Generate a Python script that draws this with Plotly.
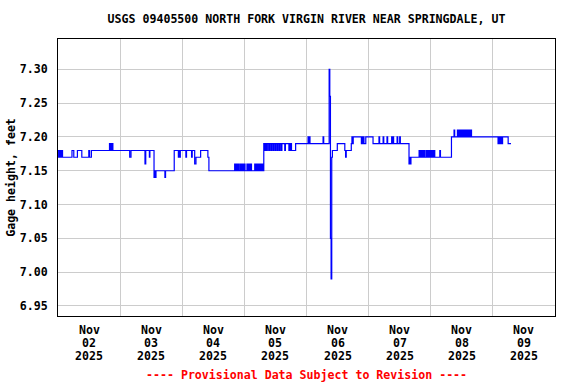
import pandas as pd
import plotly.graph_objects as go

# ---- data: step change points (hours after 2025-11-02 00:00, gage height ft) ----
hours = [
    0.0, 0.25, 0.5, 0.75, 1.0, 1.25, 1.5, 1.75,
    5.4, 6.1, 7.5, 9.2, 11.9, 12.2, 12.9,
    19.9, 20.2, 20.4, 20.7, 20.9, 21.2,
    27.7, 28.2, 33.6, 33.9, 35.3, 35.5,
    37.1, 37.35, 37.6, 37.85, 41.3, 41.55,
    44.9, 46.5, 46.75, 47.0, 47.25, 49.4, 49.65, 51.6, 51.85,
    52.8, 53.3, 55.1, 57.9, 58.3,
    68.25, 68.5, 68.75, 69.0, 69.25, 69.5, 69.75, 70.0, 70.5, 70.75,
    71.0, 71.25, 71.5, 71.75, 72.0, 72.25,
    73.0, 73.25, 73.5, 73.75, 74.0, 74.25, 74.5, 74.75,
    76.0, 76.25, 76.5, 76.75, 77.0, 77.25, 77.5, 77.75,
    78.0, 78.25, 78.5, 78.75, 79.0, 79.25,
    79.5, 79.75, 80.0, 80.25, 80.5, 81.0, 81.25, 81.75, 82.0, 82.5,
    82.75, 83.25, 83.5, 84.0, 84.25, 84.75, 85.0, 85.5, 85.75, 86.25, 86.5,
    87.6, 87.85, 89.2, 89.45, 89.7, 89.95, 90.2, 91.8,
    96.6, 96.85, 97.1, 97.35, 102.4, 102.65,
    104.75, 105.0, 105.25, 105.5, 105.75,
    106.0, 107.9, 110.8, 111.1, 111.35,
    113.3, 113.55, 113.8, 114.05,
    117.2, 117.45, 117.7, 117.95, 118.2, 118.9,
    121.7, 124.0, 124.25, 125.6, 125.85, 127.1, 127.35,
    128.9, 129.15, 129.4, 129.65, 131.0, 131.25, 132.0, 132.25,
    135.6, 135.85, 136.1, 136.35,
    139.5, 139.75, 140.0, 140.25, 140.5, 140.75, 141.0, 141.25, 141.5, 141.75,
    142.3, 142.55, 142.8, 143.05, 143.3, 143.55, 143.8, 144.05, 144.3, 144.55,
    144.8, 145.05, 145.3, 145.55,
    147.5, 147.75,
    152.0, 153.0, 153.25,
    154.3, 154.55, 154.8, 155.05, 155.3, 155.55, 155.8, 156.05, 156.3, 156.55,
    156.8, 157.05, 157.3, 157.55,
    158.0, 158.25, 158.5, 158.75, 159.0, 159.25, 159.5, 159.75,
    170.0, 170.25, 170.5, 170.75, 171.0, 171.25, 171.5, 171.75,
    173.9, 175.0,
]
gage_ft = [
    7.18, 7.17, 7.18, 7.17, 7.18, 7.17, 7.18, 7.17,
    7.18, 7.17, 7.18, 7.17, 7.18, 7.17, 7.18,
    7.19, 7.18, 7.19, 7.18, 7.19, 7.18,
    7.17, 7.18, 7.16, 7.18, 7.17, 7.18,
    7.14, 7.15, 7.14, 7.15, 7.14, 7.15,
    7.18, 7.17, 7.18, 7.17, 7.18, 7.17, 7.18, 7.17, 7.18,
    7.16, 7.17, 7.18, 7.17, 7.15,
    7.16, 7.15, 7.16, 7.15, 7.16, 7.15, 7.16, 7.15, 7.16, 7.15,
    7.16, 7.15, 7.16, 7.15, 7.16, 7.15,
    7.16, 7.15, 7.16, 7.15, 7.16, 7.15, 7.16, 7.15,
    7.16, 7.15, 7.16, 7.15, 7.16, 7.15, 7.16, 7.15,
    7.16, 7.15, 7.16, 7.15, 7.16, 7.15,
    7.19, 7.18, 7.19, 7.18, 7.19, 7.18, 7.19, 7.18, 7.19, 7.18,
    7.19, 7.18, 7.19, 7.18, 7.19, 7.18, 7.19, 7.18, 7.19, 7.18, 7.19,
    7.18, 7.19, 7.18, 7.19, 7.18, 7.19, 7.18, 7.19,
    7.20, 7.19, 7.20, 7.19, 7.20, 7.19,
    7.30, 7.26, 7.05, 6.99, 7.17,
    7.18, 7.19, 7.18, 7.17, 7.18,
    7.19, 7.20, 7.19, 7.20,
    7.19, 7.20, 7.19, 7.20, 7.19, 7.20,
    7.19, 7.20, 7.19, 7.20, 7.19, 7.20, 7.19,
    7.20, 7.19, 7.20, 7.19, 7.20, 7.19, 7.20, 7.19,
    7.16, 7.17, 7.16, 7.17,
    7.18, 7.17, 7.18, 7.17, 7.18, 7.17, 7.18, 7.17, 7.18, 7.17,
    7.18, 7.17, 7.18, 7.17, 7.18, 7.17, 7.18, 7.17, 7.18, 7.17,
    7.18, 7.17, 7.18, 7.17,
    7.18, 7.17,
    7.20, 7.21, 7.20,
    7.21, 7.20, 7.21, 7.20, 7.21, 7.20, 7.21, 7.20, 7.21, 7.20,
    7.21, 7.20, 7.21, 7.20,
    7.21, 7.20, 7.21, 7.20, 7.21, 7.20, 7.21, 7.20,
    7.19, 7.20, 7.19, 7.20, 7.19, 7.20, 7.19, 7.20,
    7.19, 7.19,
]

start = "2025-11-02"
end = "2025-11-10"
day_dates = ["2025-11-02", "2025-11-03", "2025-11-04", "2025-11-05",
             "2025-11-06", "2025-11-07", "2025-11-08", "2025-11-09"]
label_month = ["Nov"] * 8
label_day = ["02", "03", "04", "05", "06", "07", "08", "09"]
label_year = ["2025"] * 8

y_ticks = [6.95, 7.00, 7.05, 7.10, 7.15, 7.20, 7.25, 7.30]
y_ticktext = ["6.95", "7.00", "7.05", "7.10", "7.15", "7.20", "7.25", "7.30"]

title_text = "USGS 09405500 NORTH FORK VIRGIN RIVER NEAR SPRINGDALE, UT"
ytitle_text = "Gage height, feet"
footer_text = "---- Provisional Data Subject to Revision ----"

# ---- figure ----
times = pd.Timestamp(start) + pd.to_timedelta(hours, unit="h")

FONT = "DejaVu Sans Mono"
FS = 11.6

fig = go.Figure()
fig.add_trace(go.Scatter(
    x=times, y=gage_ft, mode="lines", line_shape="hv",
    line=dict(color="#0000ff", width=1.2), showlegend=False,
))

annotations = []
rows = [(label_month, -14), (label_day, -27), (label_year, -39.5)]
for labels, shift in rows:
    for d, txt in zip(day_dates, labels):
        annotations.append(dict(
            x=pd.Timestamp(d) + pd.Timedelta(hours=12), xref="x",
            y=0, yref="paper", yshift=shift, yanchor="middle",
            text=txt, showarrow=False,
            font=dict(family=FONT, size=FS, color="black", weight="bold"),
        ))
annotations.append(dict(
    x=0.5, xref="paper", y=0, yref="paper", yshift=-58.5, yanchor="middle",
    text=footer_text, showarrow=False,
    font=dict(family=FONT, size=FS, color="#ff0000", weight="bold"),
))

fig.update_layout(
    width=576, height=384,
    margin=dict(l=58, r=21, t=39, b=68, autoexpand=False),
    paper_bgcolor="white", plot_bgcolor="white",
    font=dict(family=FONT, size=FS, color="black", weight="bold"),
    title=dict(text=title_text, x=0.5, xref="paper", y=1 - 19 / 384,
               yref="container", yanchor="middle", xanchor="center",
               font=dict(family=FONT, size=FS, color="black", weight="bold")),
    annotations=annotations,
)
fig.update_xaxes(
    type="date", range=[start, end], automargin=False,
    tickmode="linear", tick0=start, dtick=86400000,
    showticklabels=False, ticks="",
    showgrid=True, gridcolor="#cccccc", gridwidth=1,
    showline=True, linecolor="black", linewidth=1, mirror=True,
    zeroline=False,
)
fig.update_yaxes(
    range=[6.935, 7.345], automargin=False,
    tickmode="array", tickvals=y_ticks, ticktext=y_ticktext,
    ticks="", ticklabelstandoff=7,
    showgrid=True, gridcolor="#cccccc", gridwidth=1,
    showline=True, linecolor="black", linewidth=1, mirror=True,
    zeroline=False,
    title=dict(text=ytitle_text, standoff=1,
               font=dict(family=FONT, size=FS, color="black", weight="bold")),
    tickfont=dict(family=FONT, size=FS, color="black", weight="bold"),
)

fig.write_html("out.html", config={"displayModeBar": False},
               post_script="document.body.style.margin='0px';")
